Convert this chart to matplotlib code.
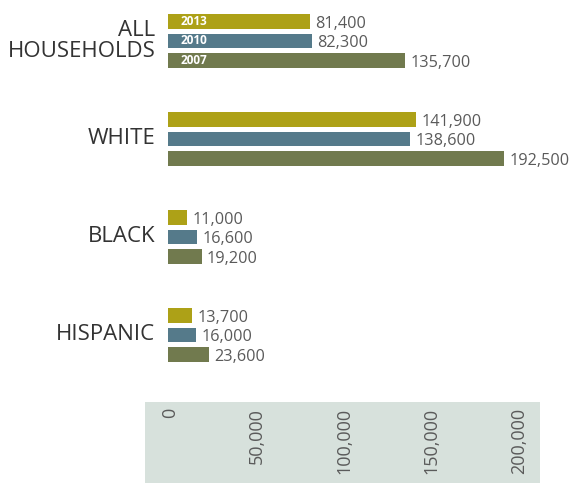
import matplotlib
matplotlib.use("Agg")
import matplotlib.pyplot as plt

plt.rcParams['font.family'] = ['Open Sans', 'DejaVu Sans']

categories = ["ALL\nHOUSEHOLDS", "WHITE", "BLACK", "HISPANIC"]
years = ["2013", "2010", "2007"]
values = {
    "2013": [81400, 141900, 11000, 13700],
    "2010": [82300, 138600, 16600, 16000],
    "2007": [135700, 192500, 19200, 23600],
}
colors = {"2013": "#ADA117", "2010": "#557A8A", "2007": "#717A4E"}
tick_values = [0, 50000, 100000, 150000, 200000]

W, H = 569, 483
fig = plt.figure(figsize=(W / 100, H / 100), dpi=100)

px_per_unit = 1 / 573.0
x0_px = 168
xmax = 215000
ax_w_px = xmax * px_per_unit
unit_px = 98.0
top_px = 41 - 0.4 * unit_px
ax = fig.add_axes([x0_px / W, 1 - (top_px + 4 * unit_px) / H, ax_w_px / W, 4 * unit_px / H])
ax.set_xlim(0, xmax)
ax.set_ylim(3.6, -0.4)
ax.axis('off')

offsets = [-0.199, 0.0, 0.199]
bh = 0.143
for yi, (yr, off) in enumerate(zip(years, offsets)):
    vals = values[yr]
    for ci, v in enumerate(vals):
        y = ci + off
        ax.barh(y, v, height=bh, color=colors[yr], left=0)
        ax.annotate(f"{v:,}", (v, y), xytext=(4, -1.5), textcoords='offset points',
                    ha='left', va='center', fontsize=11.7, color='#5a5a5a')
    ax.text(7000, 0 + off, yr, ha='left', va='center', fontsize=8.5,
            fontweight='bold', color='white')

for ci, cat in enumerate(categories):
    ax.annotate(cat, (0, ci), xytext=(-9, 0), textcoords='offset points',
                ha='right', va='center', multialignment='right',
                fontsize=16, color='#333333', linespacing=0.95)

# bottom tick panel
pl_px, pr_px = 145, 540
xl = (pl_px - x0_px) / px_per_unit
xr = (pr_px - x0_px) / px_per_unit
axb = fig.add_axes([pl_px / W, 0, (pr_px - pl_px) / W, (H - 402) / H])
axb.set_xlim(xl, xr)
axb.set_ylim(0, 1)
axb.set_facecolor('#D7E1DC')
for s in axb.spines.values():
    s.set_visible(False)
axb.set_xticks([])
axb.set_yticks([])
for t in tick_values:
    axb.text(t + 2 * 573, 0.93, f"{t:,}", rotation=90, ha='center', va='top',
             fontsize=13, color='#5a5a5a')

fig.savefig("out.png", dpi=100)
